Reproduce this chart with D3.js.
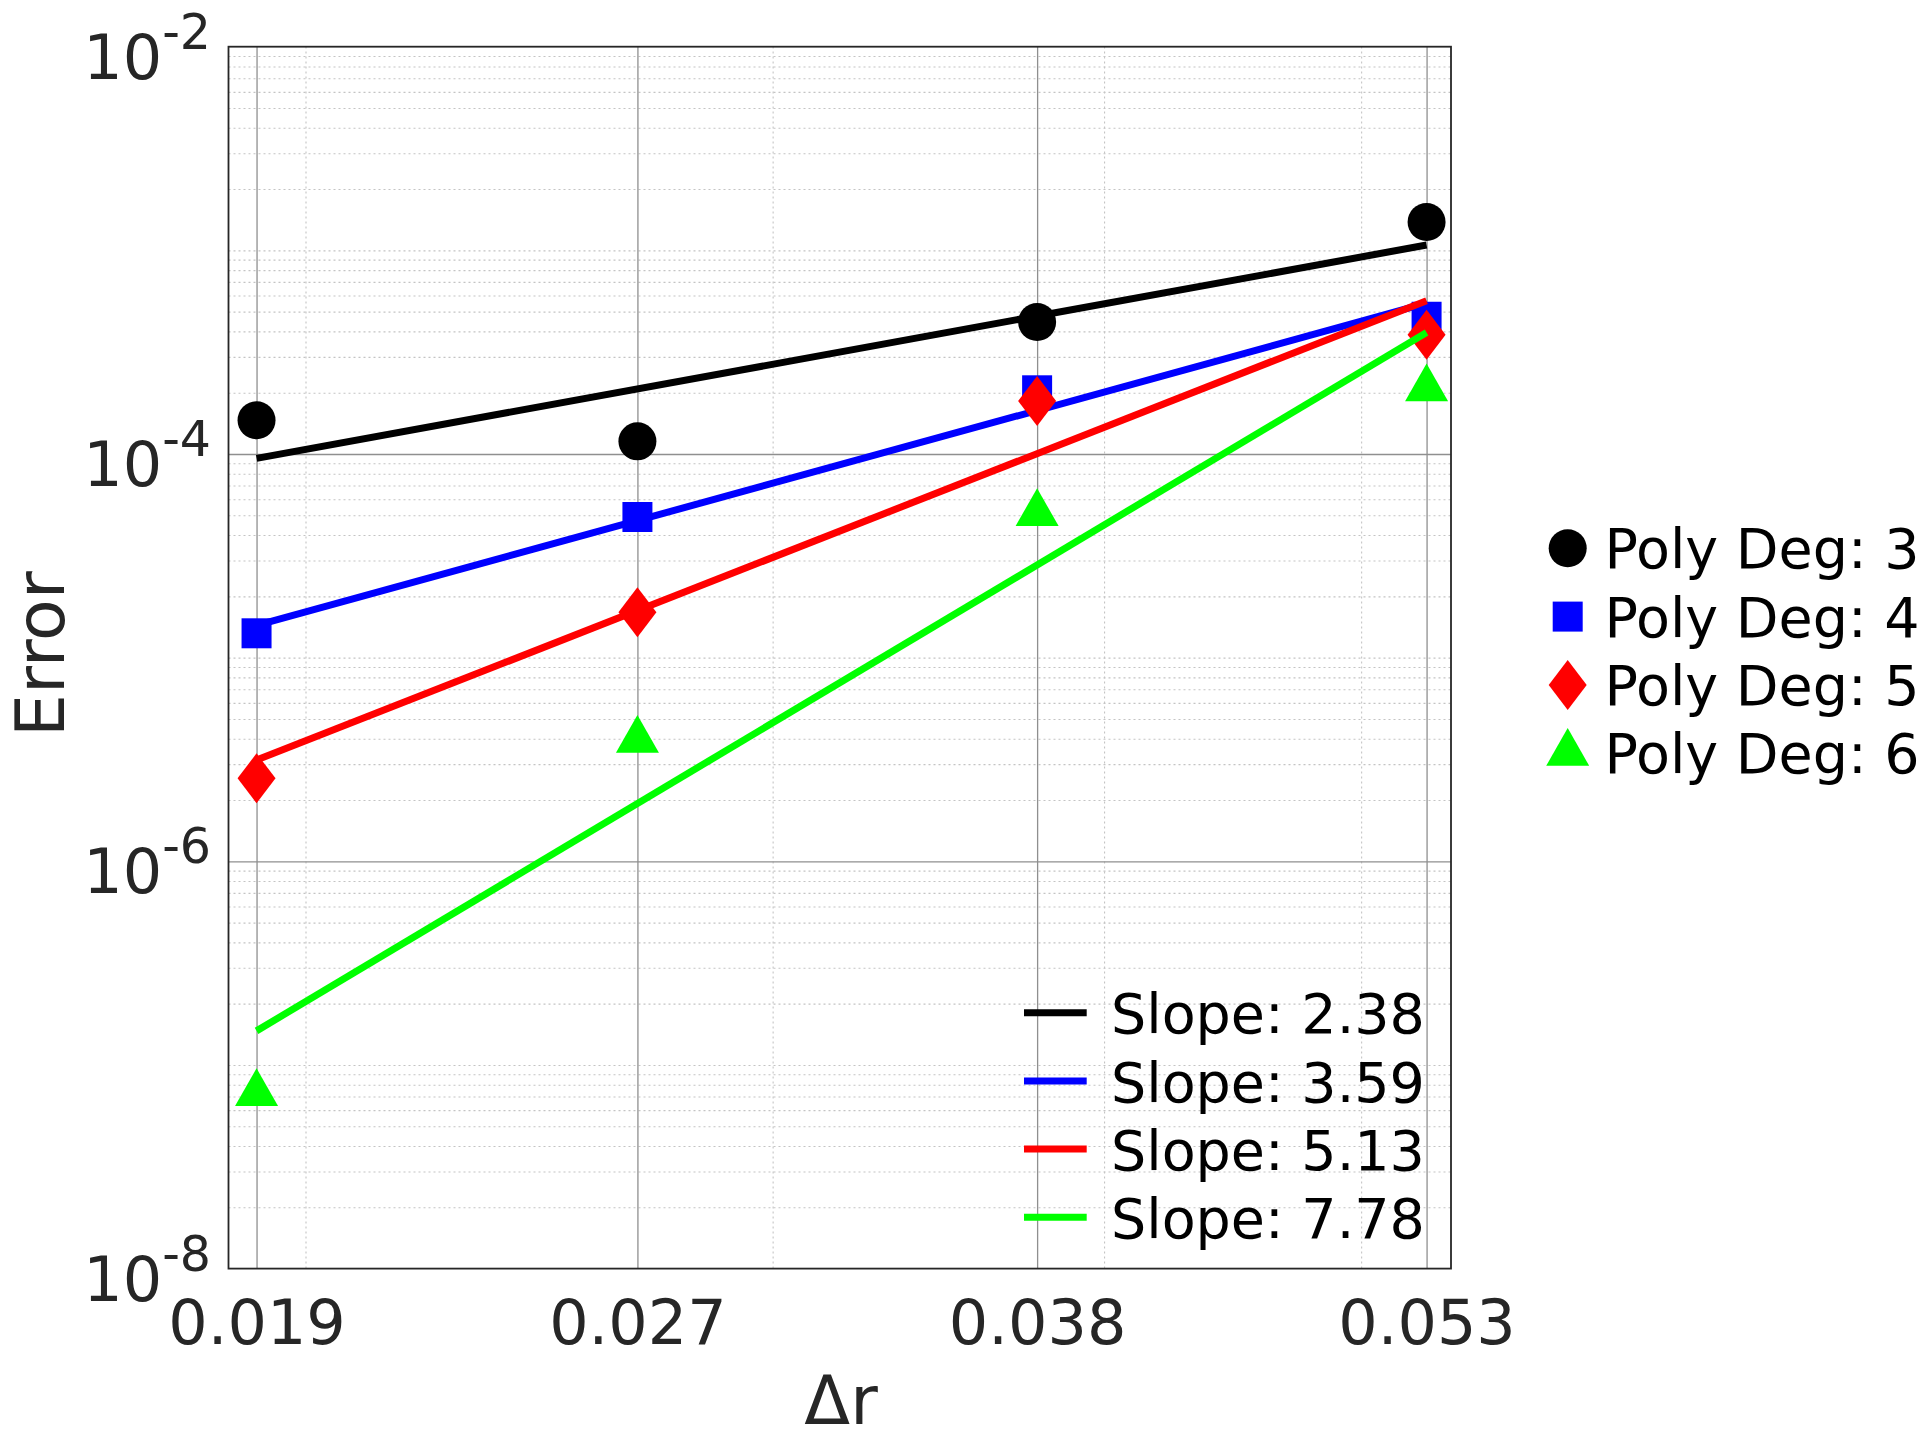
<!DOCTYPE html>
<html>
<head>
<meta charset="utf-8">
<script src="https://cdn.jsdelivr.net/npm/d3@7"></script>
<style>
  html, body { margin: 0; padding: 0; background: #ffffff; }
  svg { display: block; }
  text { font-family: "DejaVu Sans", sans-serif; }
</style>
</head>
<body>
<svg id="chart" width="1930" height="1440"></svg>
<script>
// ---------------- data ----------------
const dr = [0.019168, 0.026678, 0.037742, 0.052922];
const xTickLabels = ["0.019", "0.027", "0.038", "0.053"];
const xLimits = [0.018707, 0.054056];
const yLimits = [1e-8, 1e-2];
const yTickValues = [1e-8, 1e-6, 1e-4, 1e-2];
const yTickExponents = ["-8", "-6", "-4", "-2"];
const xMinorGrid = [0.02, 0.03, 0.04, 0.05];

const seriesNames = ["Poly Deg: 3", "Poly Deg: 4", "Poly Deg: 5", "Poly Deg: 6"];
const seriesColors = ["#000000", "#0000ff", "#ff0000", "#00ff00"];
const seriesMarkers = ["circle", "square", "diamond", "triangle"];
const errDeg3 = [1.464e-4, 1.154e-4, 4.447e-4, 1.378e-3];
const errDeg4 = [1.317e-5, 4.905e-5, 2.055e-4, 4.72e-4];
const errDeg5 = [2.555e-6, 1.669e-5, 1.820e-4, 3.853e-4];
const errDeg6 = [7.25e-8, 3.936e-6, 5.11e-5, 2.092e-4];

const slopes = [2.38, 3.59, 5.13, 7.78];
const fitStart = [9.52e-5, 1.44e-5, 3.14e-6, 1.47e-7];
const fitEnd = [1.062e-3, 5.5e-4, 5.66e-4, 3.95e-4];

// ---------------- layout ----------------
const svg = d3.select("#chart");
svg.append("rect").attr("width", 1930).attr("height", 1440).attr("fill", "#ffffff");

const L = 228.5, R = 1451, T = 46.7, B = 1268.6;
const W = R - L, H = B - T;
const x = d3.scaleLog().domain(xLimits).range([L, R]);
const y = d3.scaleLog().domain(yLimits).range([B, T]);

const errs = [errDeg3, errDeg4, errDeg5, errDeg6];

// minor y grid values
const yMinor = [];
for (let e = -8; e < -2; e++) {
  for (let k = 1; k <= 9; k++) {
    const v = k * Math.pow(10, e);
    if (k === 1 && (e === -8 || e === -6 || e === -4)) continue;
    yMinor.push(v);
  }
}

// minor grids (dotted)
const gMinX = svg.append("g").attr("transform", `translate(0,${B})`)
  .call(d3.axisBottom(x).tickValues(xMinorGrid).tickSize(-H).tickFormat(""));
const gMinY = svg.append("g").attr("transform", `translate(${L},0)`)
  .call(d3.axisLeft(y).tickValues(yMinor).tickSize(-W).tickFormat(""));
[gMinX, gMinY].forEach(g => {
  g.select(".domain").remove();
  g.selectAll("line").attr("stroke", "#c4c4c4").attr("stroke-width", 1.1)
    .attr("stroke-dasharray", "2,3");
});

// major grids
const gMajX = svg.append("g").attr("transform", `translate(0,${B})`)
  .call(d3.axisBottom(x).tickValues(dr).tickSize(-H).tickFormat(""));
const gMajY = svg.append("g").attr("transform", `translate(${L},0)`)
  .call(d3.axisLeft(y).tickValues([1e-6, 1e-4]).tickSize(-W).tickFormat(""));
[gMajX, gMajY].forEach(g => {
  g.select(".domain").remove();
  g.selectAll("line").attr("stroke", "#8f8f8f").attr("stroke-width", 1.3);
});

// series: markers then fit line, per series
function markerPath(type) {
  if (type === "circle") return d3.symbol().type(d3.symbolCircle).size(Math.PI * 19 * 19)();
  if (type === "square") return "M-15,-15H15V15H-15Z";
  if (type === "diamond") return "M0,-25L19,0L0,25L-19,0Z";
  return "M0,-25.1L21.5,12.6L-21.5,12.6Z";
}
const lineGen = d3.line().x(d => x(d[0])).y(d => y(d[1]));

errs.forEach((vals, i) => {
  const g = svg.append("g");
  g.selectAll("path.m").data(vals).enter().append("path")
    .attr("class", "m")
    .attr("d", markerPath(seriesMarkers[i]))
    .attr("transform", (d, j) => `translate(${x(dr[j])},${y(d)})`)
    .attr("fill", seriesColors[i]);
  g.append("path")
    .attr("d", lineGen([[dr[0], fitStart[i]], [dr[dr.length - 1], fitEnd[i]]]))
    .attr("stroke", seriesColors[i]).attr("stroke-width", 7).attr("fill", "none");
});

// axes box
svg.append("rect").attr("x", L).attr("y", T).attr("width", W).attr("height", H)
  .attr("fill", "none").attr("stroke", "#262626").attr("stroke-width", 1.8);

// x tick labels
const gx = svg.append("g").attr("transform", `translate(0,${B})`)
  .call(d3.axisBottom(x).tickValues(dr).tickSize(0).tickPadding(0)
    .tickFormat((d, i) => xTickLabels[i]));
gx.select(".domain").remove();
gx.selectAll("text").attr("font-size", 62).attr("fill", "#262626")
  .attr("font-family", "DejaVu Sans").attr("dy", null).attr("y", 75.4);

// y tick labels with superscript exponents
const gy = svg.append("g");
yTickValues.forEach((v, i) => {
  const t = gy.append("text")
    .attr("x", 211).attr("y", y(v) + 32)
    .attr("text-anchor", "end").attr("fill", "#262626").attr("font-size", 62);
  t.append("tspan").text("10");
  t.append("tspan").attr("font-size", 49).attr("dy", -30).text(yTickExponents[i]);
});

// axis titles
svg.append("text").attr("x", 841).attr("y", 1424).attr("text-anchor", "middle")
  .attr("font-size", 67).attr("fill", "#262626").text("\u0394r");
svg.append("text").attr("transform", "translate(63.5,654.2) rotate(-90)")
  .attr("text-anchor", "middle").attr("font-size", 68).attr("fill", "#262626").text("Error");

// legend 1: markers
const leg1 = svg.append("g");
seriesNames.forEach((name, i) => {
  const cy = 548.3 + i * 68.3;
  leg1.append("path").attr("d", markerPath(seriesMarkers[i]))
    .attr("transform", `translate(1567.7,${cy})`).attr("fill", seriesColors[i]);
  leg1.append("text").attr("x", 1604.5).attr("y", cy + 20)
    .attr("font-size", 55.5).attr("fill", "#000000").text(name);
});

// legend 2: fit lines
const leg2 = svg.append("g");
slopes.forEach((s, i) => {
  const cy = 1012.7 + i * 68.2;
  leg2.append("line").attr("x1", 1024).attr("x2", 1086.7).attr("y1", cy).attr("y2", cy)
    .attr("stroke", seriesColors[i]).attr("stroke-width", 7);
  leg2.append("text").attr("x", 1111).attr("y", cy + 20.6)
    .attr("font-size", 55.5).attr("fill", "#000000").text("Slope: " + s.toFixed(2));
});
</script>
</body>
</html>
